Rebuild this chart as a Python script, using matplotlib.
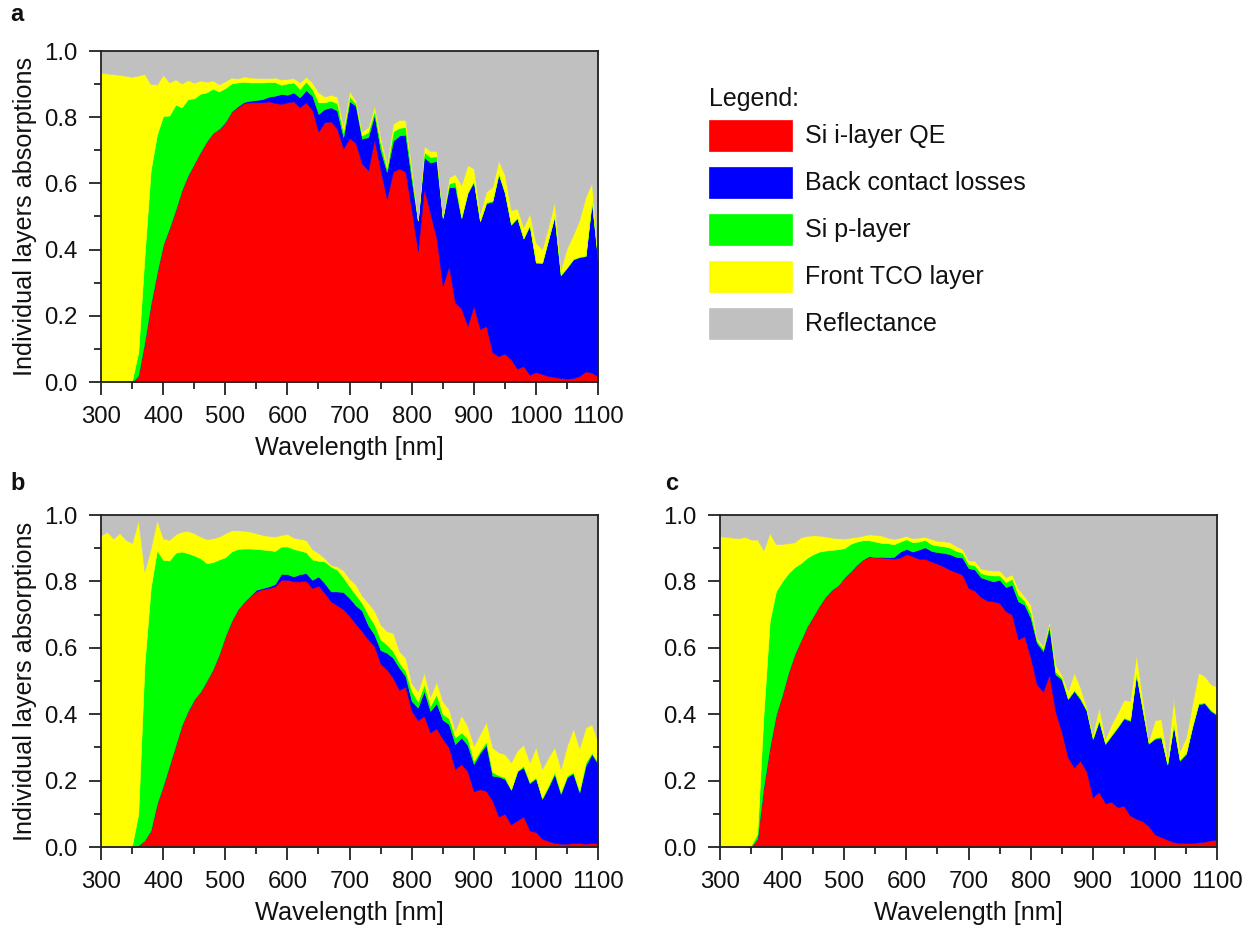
import numpy as np
import matplotlib
matplotlib.use("Agg")
import matplotlib.pyplot as plt
from matplotlib.patches import Rectangle
from matplotlib.ticker import MultipleLocator, FormatStrFormatter

plt.rcParams['font.family'] = ['Liberation Sans', 'DejaVu Sans']

# ---------------- data ----------------
wavelength = list(range(300, 1101, 10))   # nm

layer_names = ["Si i-layer QE", "Back contact losses", "Si p-layer",
               "Front TCO layer", "Reflectance"]
layer_colors = ["#ff0000", "#0000ff", "#00ff00", "#ffff00", "#c0c0c0"]

# cumulative boundaries (top of i-layer QE, top of back contact, top of p-layer, total absorbed)
# ---- panel a ----
a_qe = [0, 0, 0, 0, 0, 0,
        0.02, 0.12, 0.235, 0.33, 0.415, 0.465, 0.52, 0.58, 0.625, 0.66,
        0.695, 0.727, 0.752, 0.765, 0.785, 0.817, 0.83, 0.843, 0.845, 0.845,
        0.845, 0.848, 0.843, 0.84, 0.845, 0.848, 0.83, 0.845, 0.822, 0.757,
        0.785, 0.787, 0.765, 0.706, 0.737, 0.722, 0.66, 0.64, 0.733, 0.64,
        0.554, 0.635, 0.645, 0.635, 0.52, 0.397, 0.585, 0.51, 0.435, 0.291,
        0.35, 0.24, 0.222, 0.17, 0.23, 0.16, 0.169, 0.09, 0.078, 0.086,
        0.068, 0.04, 0.048, 0.022, 0.03, 0.024, 0.018, 0.015, 0.012, 0.01,
        0.012, 0.018, 0.032, 0.028, 0.017]
a_back_top = [0, 0, 0, 0, 0, 0,
              0.02, 0.12, 0.235, 0.33, 0.415, 0.465, 0.52, 0.58, 0.625, 0.66,
              0.695, 0.727, 0.752, 0.765, 0.785, 0.817, 0.833, 0.846, 0.85, 0.852,
              0.855, 0.862, 0.865, 0.87, 0.868, 0.875, 0.86, 0.882, 0.865, 0.81,
              0.825, 0.83, 0.82, 0.74, 0.848, 0.835, 0.735, 0.74, 0.807, 0.70,
              0.635, 0.728, 0.745, 0.747, 0.61, 0.488, 0.68, 0.663, 0.668, 0.495,
              0.588, 0.59, 0.495, 0.57, 0.605, 0.485, 0.54, 0.545, 0.628, 0.57,
              0.475, 0.495, 0.433, 0.473, 0.36, 0.359, 0.43, 0.5, 0.322, 0.345,
              0.37, 0.377, 0.38, 0.545, 0.365]
a_p_top = [0, 0, 0, 0, 0, 0.005,
           0.09, 0.38, 0.64, 0.747, 0.804, 0.805, 0.838, 0.83, 0.855, 0.857,
           0.871, 0.875, 0.886, 0.878, 0.888, 0.902, 0.905, 0.907, 0.905, 0.905,
           0.905, 0.906, 0.906, 0.898, 0.902, 0.905, 0.885, 0.908, 0.885, 0.845,
           0.845, 0.85, 0.842, 0.755, 0.862, 0.842, 0.745, 0.755, 0.82, 0.72,
           0.645, 0.757, 0.768, 0.77, 0.63, 0.488, 0.695, 0.68, 0.682, 0.497,
           0.6, 0.605, 0.498, 0.573, 0.608, 0.487, 0.543, 0.548, 0.631, 0.573,
           0.477, 0.497, 0.435, 0.475, 0.362, 0.361, 0.432, 0.502, 0.324, 0.347,
           0.372, 0.379, 0.382, 0.547, 0.367]
a_absorbed = [0.934, 0.932, 0.93, 0.928, 0.925, 0.922,
              0.926, 0.931, 0.9, 0.899, 0.928, 0.905, 0.914, 0.902, 0.912, 0.904,
              0.911, 0.907, 0.911, 0.899, 0.909, 0.92, 0.917, 0.923, 0.92, 0.919,
              0.918, 0.918, 0.92, 0.914, 0.916, 0.918, 0.905, 0.922, 0.905, 0.875,
              0.862, 0.868, 0.862, 0.775, 0.878, 0.85, 0.757, 0.77, 0.835, 0.74,
              0.66, 0.78, 0.792, 0.792, 0.65, 0.49, 0.713, 0.698, 0.698, 0.5,
              0.618, 0.628, 0.595, 0.655, 0.645, 0.51, 0.575, 0.59, 0.669, 0.625,
              0.519, 0.524, 0.468, 0.509, 0.42, 0.402, 0.47, 0.544, 0.34, 0.405,
              0.445, 0.49, 0.56, 0.602, 0.37]

# ---- panel b ----
b_qe = [0, 0, 0, 0, 0, 0,
        0.005, 0.02, 0.05, 0.13, 0.185, 0.245, 0.306, 0.367, 0.41, 0.445,
        0.468, 0.5, 0.535, 0.58, 0.635, 0.68, 0.715, 0.738, 0.755, 0.77,
        0.777, 0.78, 0.785, 0.805, 0.805, 0.8, 0.8, 0.802, 0.78, 0.787,
        0.765, 0.74, 0.728, 0.716, 0.696, 0.672, 0.65, 0.625, 0.605, 0.552,
        0.535, 0.51, 0.473, 0.483, 0.41, 0.382, 0.395, 0.345, 0.357, 0.326,
        0.3, 0.235, 0.25, 0.228, 0.168, 0.174, 0.169, 0.14, 0.092, 0.1,
        0.068, 0.08, 0.092, 0.05, 0.045, 0.025, 0.018, 0.012, 0.01, 0.01,
        0.012, 0.012, 0.01, 0.012, 0.012]
b_back_top = [0, 0, 0, 0, 0, 0,
              0.005, 0.02, 0.05, 0.13, 0.185, 0.245, 0.306, 0.367, 0.41, 0.445,
              0.468, 0.5, 0.535, 0.58, 0.635, 0.68, 0.715, 0.738, 0.757, 0.775,
              0.78, 0.785, 0.792, 0.823, 0.822, 0.815, 0.822, 0.825, 0.805, 0.815,
              0.795, 0.77, 0.77, 0.768, 0.75, 0.728, 0.712, 0.668, 0.64, 0.593,
              0.585, 0.57, 0.54, 0.515, 0.44, 0.42, 0.47, 0.41, 0.433, 0.383,
              0.37, 0.31, 0.33, 0.307, 0.25, 0.283, 0.308, 0.215, 0.212, 0.205,
              0.172, 0.228, 0.24, 0.192, 0.207, 0.145, 0.18, 0.22, 0.16, 0.21,
              0.222, 0.165, 0.245, 0.28, 0.25]
b_p_top = [0, 0, 0, 0, 0, 0.005,
           0.1, 0.55, 0.78, 0.894, 0.865, 0.863, 0.886, 0.89, 0.885, 0.878,
           0.87, 0.855, 0.858, 0.866, 0.873, 0.89, 0.898, 0.899, 0.899, 0.898,
           0.896, 0.894, 0.892, 0.905, 0.905, 0.898, 0.893, 0.888, 0.866, 0.862,
           0.86, 0.845, 0.835, 0.812, 0.785, 0.76, 0.735, 0.7, 0.67, 0.625,
           0.61, 0.59, 0.555, 0.53, 0.47, 0.438, 0.49, 0.425, 0.46, 0.4,
           0.388, 0.33, 0.345, 0.326, 0.26, 0.29, 0.318, 0.226, 0.216, 0.21,
           0.174, 0.23, 0.245, 0.196, 0.21, 0.148, 0.185, 0.226, 0.165, 0.215,
           0.226, 0.17, 0.255, 0.284, 0.255]
b_absorbed = [0.939, 0.949, 0.929, 0.946, 0.925, 0.916,
              0.985, 0.83, 0.9, 0.985, 0.929, 0.925, 0.942, 0.95, 0.952, 0.945,
              0.935, 0.927, 0.93, 0.935, 0.945, 0.954, 0.954, 0.953, 0.95, 0.945,
              0.94, 0.937, 0.935, 0.94, 0.943, 0.932, 0.928, 0.925, 0.897, 0.885,
              0.87, 0.85, 0.845, 0.833, 0.808, 0.79, 0.757, 0.735, 0.712, 0.67,
              0.65, 0.645, 0.59, 0.57, 0.493, 0.468, 0.525, 0.453, 0.498, 0.438,
              0.415, 0.35, 0.397, 0.365, 0.305, 0.34, 0.377, 0.3, 0.285, 0.28,
              0.255, 0.291, 0.308, 0.255, 0.301, 0.235, 0.27, 0.301, 0.235, 0.305,
              0.357, 0.298, 0.36, 0.369, 0.316]

# ---- panel c ----
c_qe = [0, 0, 0, 0, 0, 0,
        0.025, 0.18, 0.3, 0.397, 0.458, 0.525, 0.58, 0.622, 0.664, 0.695,
        0.727, 0.755, 0.775, 0.788, 0.812, 0.83, 0.85, 0.865, 0.874, 0.872,
        0.872, 0.87, 0.868, 0.872, 0.882, 0.876, 0.868, 0.868, 0.86, 0.853,
        0.845, 0.835, 0.828, 0.82, 0.78, 0.772, 0.753, 0.742, 0.74, 0.735,
        0.71, 0.7, 0.625, 0.635, 0.57, 0.49, 0.468, 0.52, 0.407, 0.347,
        0.27, 0.24, 0.26, 0.227, 0.15, 0.166, 0.132, 0.136, 0.12, 0.124,
        0.095, 0.085, 0.078, 0.063, 0.038, 0.03, 0.022, 0.015, 0.012, 0.012,
        0.012, 0.014, 0.016, 0.02, 0.022]
c_back_top = [0, 0, 0, 0, 0, 0,
              0.025, 0.18, 0.3, 0.397, 0.458, 0.525, 0.58, 0.622, 0.664, 0.695,
              0.727, 0.755, 0.775, 0.788, 0.812, 0.83, 0.85, 0.866, 0.876, 0.873,
              0.874, 0.873, 0.874, 0.89, 0.898, 0.89, 0.896, 0.903, 0.892, 0.888,
              0.886, 0.882, 0.874, 0.872, 0.84, 0.836, 0.812, 0.806, 0.8, 0.805,
              0.783, 0.79, 0.74, 0.73, 0.69, 0.615, 0.59, 0.662, 0.52, 0.505,
              0.445, 0.47, 0.445, 0.41, 0.325, 0.38, 0.31, 0.335, 0.36, 0.387,
              0.38, 0.52, 0.415, 0.311, 0.326, 0.33, 0.248, 0.367, 0.26, 0.28,
              0.36, 0.43, 0.433, 0.41, 0.397]
c_p_top = [0, 0, 0, 0, 0, 0.005,
           0.04, 0.4, 0.68, 0.77, 0.8, 0.825, 0.843, 0.855, 0.871, 0.882,
           0.89, 0.893, 0.895, 0.897, 0.9, 0.913, 0.92, 0.924, 0.924, 0.92,
           0.916, 0.915, 0.912, 0.92, 0.927, 0.918, 0.92, 0.925, 0.912, 0.908,
           0.906, 0.902, 0.892, 0.886, 0.852, 0.848, 0.825, 0.82, 0.818, 0.818,
           0.798, 0.808, 0.76, 0.742, 0.705, 0.622, 0.597, 0.672, 0.528, 0.51,
           0.448, 0.473, 0.448, 0.413, 0.328, 0.383, 0.313, 0.338, 0.363, 0.39,
           0.383, 0.523, 0.418, 0.314, 0.329, 0.333, 0.251, 0.37, 0.263, 0.283,
           0.363, 0.433, 0.436, 0.413, 0.4]
c_absorbed = [0.936, 0.934, 0.932, 0.93, 0.934, 0.926,
              0.926, 0.894, 0.946, 0.912, 0.913, 0.915, 0.918, 0.933, 0.937, 0.939,
              0.938, 0.935, 0.932, 0.93, 0.929, 0.932, 0.934, 0.938, 0.942, 0.94,
              0.938, 0.932, 0.928, 0.932, 0.937, 0.93, 0.932, 0.934, 0.928, 0.922,
              0.921, 0.918, 0.906, 0.898, 0.863, 0.862, 0.838, 0.835, 0.833, 0.833,
              0.812, 0.821, 0.778, 0.755, 0.73, 0.63, 0.605, 0.68, 0.549, 0.519,
              0.47, 0.525, 0.48, 0.42, 0.34, 0.422, 0.326, 0.37, 0.405, 0.443,
              0.44, 0.58, 0.45, 0.321, 0.382, 0.385, 0.27, 0.448, 0.29, 0.33,
              0.43, 0.525, 0.515, 0.49, 0.483]

x_ticks = [300, 400, 500, 600, 700, 800, 900, 1000, 1100]
y_ticks = [0.0, 0.2, 0.4, 0.6, 0.8, 1.0]

# ---------------- figure ----------------
W, H = 1257, 930
fig = plt.figure(figsize=(W / 100, H / 100), dpi=100)


def px_axes(left, top, right, bottom):
    return fig.add_axes([left / W, 1 - bottom / H, (right - left) / W, (bottom - top) / H])


def draw_panel(ax, qe, back_top, p_top, absorbed):
    qe = np.asarray(qe, float)
    back_top = np.asarray(back_top, float)
    p_top = np.asarray(p_top, float)
    absorbed = np.asarray(absorbed, float)
    layers = [qe,
              np.clip(back_top - qe, 0, None),
              np.clip(p_top - back_top, 0, None),
              np.clip(absorbed - p_top, 0, None),
              np.clip(1 - absorbed, 0, None)]
    ax.stackplot(wavelength, *layers, colors=layer_colors,
                 edgecolor='face', linewidth=0.4)
    ax.set_xlim(300, 1100)
    ax.set_ylim(0, 1)
    ax.set_xticks(x_ticks)
    ax.set_yticks(y_ticks)
    ax.xaxis.set_minor_locator(MultipleLocator(50))
    ax.yaxis.set_minor_locator(MultipleLocator(0.1))
    ax.yaxis.set_major_formatter(FormatStrFormatter('%.1f'))
    ax.tick_params(which='both', direction='out', top=False, right=False,
                   width=1.3, color='#222222', labelsize=17.3, labelcolor='#111111')
    ax.tick_params(which='major', length=9, pad=8)
    ax.tick_params(which='minor', length=5)
    for s in ax.spines.values():
        s.set_linewidth(1.3)
        s.set_color('#222222')
        s.set_zorder(5)
    ax.set_xlabel('Wavelength [nm]', fontsize=18.2, labelpad=6, color='#111111')


ax_a = px_axes(101, 51, 598, 382)
draw_panel(ax_a, a_qe, a_back_top, a_p_top, a_absorbed)
ax_b = px_axes(101, 515, 598, 847)
draw_panel(ax_b, b_qe, b_back_top, b_p_top, b_absorbed)
ax_c = px_axes(720, 515, 1217, 847)
draw_panel(ax_c, c_qe, c_back_top, c_p_top, c_absorbed)

# y labels
for yc in (216, 681):
    fig.text(25 / W, 1 - yc / H, 'Individual layers absorptions', rotation=90,
             ha='center', va='center', fontsize=18.2, color='#111111')

# panel letters
for lbl, x, y in (('a', 10, 3), ('b', 10, 472), ('c', 665, 472)):
    fig.text(x / W, 1 - y / H, lbl, ha='left', va='top', fontsize=17,
             fontweight='bold', color='#111111')

# legend
fig.text(709 / W, 1 - 99 / H, 'Legend:', ha='left', va='center', fontsize=18,
         color='#111111')
for i, (name, col) in enumerate(zip(layer_names, layer_colors)):
    top = 120 + 47 * i
    fig.patches.append(Rectangle((709 / W, 1 - (top + 31) / H), 83 / W, 31 / H,
                                 transform=fig.transFigure, facecolor=col,
                                 edgecolor=col, linewidth=0.5))
    fig.text(805 / W, 1 - (top + 15.5) / H, name, ha='left', va='center',
             fontsize=18, color='#111111')

fig.savefig('out.png', dpi=100)
